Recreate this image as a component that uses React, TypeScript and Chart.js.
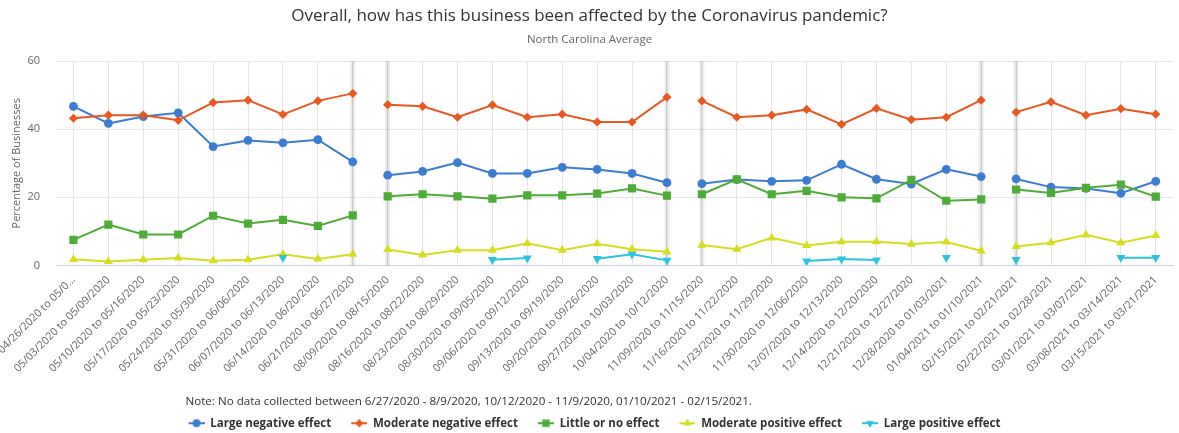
import React, { useEffect, useRef } from "react";
import { Chart, registerables } from "chart.js";

Chart.register(...registerables);

const categories = [
  "04/26/2020 to 05/02/2020",
  "05/03/2020 to 05/09/2020",
  "05/10/2020 to 05/16/2020",
  "05/17/2020 to 05/23/2020",
  "05/24/2020 to 05/30/2020",
  "05/31/2020 to 06/06/2020",
  "06/07/2020 to 06/13/2020",
  "06/14/2020 to 06/20/2020",
  "06/21/2020 to 06/27/2020",
  "08/09/2020 to 08/15/2020",
  "08/16/2020 to 08/22/2020",
  "08/23/2020 to 08/29/2020",
  "08/30/2020 to 09/05/2020",
  "09/06/2020 to 09/12/2020",
  "09/13/2020 to 09/19/2020",
  "09/20/2020 to 09/26/2020",
  "09/27/2020 to 10/03/2020",
  "10/04/2020 to 10/12/2020",
  "11/09/2020 to 11/15/2020",
  "11/16/2020 to 11/22/2020",
  "11/23/2020 to 11/29/2020",
  "11/30/2020 to 12/06/2020",
  "12/07/2020 to 12/13/2020",
  "12/14/2020 to 12/20/2020",
  "12/21/2020 to 12/27/2020",
  "12/28/2020 to 01/03/2021",
  "01/04/2021 to 01/10/2021",
  "02/15/2021 to 02/21/2021",
  "02/22/2021 to 02/28/2021",
  "03/01/2021 to 03/07/2021",
  "03/08/2021 to 03/14/2021",
  "03/15/2021 to 03/21/2021",
];

const largeNegative = [46.7, 41.7, 43.7, 44.8, 34.9, 36.7, 36.0, 36.9, 30.4, 26.5, 27.6, 30.2, 27.0, 27.0, 28.8, 28.2, 27.0, 24.3, 24.0, 25.2, 24.7, 25.0, 29.7, 25.3, 23.9, 28.2, 26.1, 25.4, 23.0, 22.6, 21.2, 24.7];
const moderateNegative = [43.2, 44.1, 44.1, 42.6, 47.8, 48.5, 44.3, 48.3, 50.5, 47.2, 46.7, 43.5, 47.1, 43.5, 44.4, 42.1, 42.1, 49.4, 48.3, 43.5, 44.1, 45.8, 41.4, 46.1, 42.8, 43.5, 48.5, 45.0, 48.0, 44.1, 46.0, 44.4];
const littleOrNoEffect = [7.5, 12.0, 9.1, 9.1, 14.6, 12.3, 13.4, 11.6, 14.7, 20.3, 20.9, 20.3, 19.6, 20.6, 20.6, 21.1, 22.6, 20.5, 20.9, 25.3, 20.9, 21.9, 20.0, 19.7, 25.1, 19.0, 19.4, 22.3, 21.3, 22.8, 23.7, 20.2];
const moderatePositive = [1.8, 1.2, 1.7, 2.2, 1.4, 1.7, 3.3, 1.9, 3.3, 4.7, 3.1, 4.5, 4.5, 6.5, 4.5, 6.4, 4.8, 4.0, 6.0, 4.8, 8.1, 5.9, 7.0, 7.0, 6.3, 6.9, 4.3, 5.6, 6.7, 9.0, 6.7, 8.8];
const largePositive = [null, null, null, null, null, null, 2.3, null, null, null, null, null, 1.7, 2.2, null, 2.0, 3.3, 1.5, null, null, null, 1.3, 1.9, 1.6, null, 2.3, null, 1.7, null, null, 2.3, 2.3];

const seriesNames = ["Large negative effect", "Moderate negative effect", "Little or no effect", "Moderate positive effect", "Large positive effect"];
const seriesColors = ["#3b7dd2", "#e8581f", "#4dad36", "#d6dd1e", "#2bc3e0"];
const yTicks = [0, 20, 40, 60];
const gapAfter = [8, 17, 26];
const bandIndices = [8, 9, 17, 18, 26, 27];

const titleText = "Overall, how has this business been affected by the Coronavirus pandemic?";
const subtitleText = "North Carolina Average";
const yTitleText = "Percentage of Businesses";
const noteText = "Note: No data collected between 6/27/2020 - 8/9/2020, 10/12/2020 - 11/9/2020, 01/10/2021 - 02/15/2021.";

const shapes = ["circle", "rectRot", "rect", "triangle", "triangle"];
const rotations = [0, 0, 0, 0, 180];
const radii = [4.4, 4.6, 5.8, 5.2, 5.2];

const FONT = "'Open Sans', sans-serif";

function drawShape(g: CanvasRenderingContext2D, shape: string, x: number, y: number, r: number, rot: number) {
  g.beginPath();
  if (shape === "circle") {
    g.arc(x, y, r, 0, Math.PI * 2);
  } else if (shape === "rectRot") {
    g.moveTo(x - r, y); g.lineTo(x, y - r); g.lineTo(x + r, y); g.lineTo(x, y + r);
  } else if (shape === "rect") {
    const s = r * Math.SQRT1_2;
    g.rect(x - s, y - s, 2 * s, 2 * s);
  } else {
    const dir = rot === 180 ? -1 : 1;
    g.moveTo(x, y - dir * r);
    g.lineTo(x + r * 0.866, y + dir * r * 0.5);
    g.lineTo(x - r * 0.866, y + dir * r * 0.5);
  }
  g.closePath();
  g.fill();
}

function makeIcon(i: number) {
  const c = document.createElement("canvas");
  c.width = 26;
  c.height = 12;
  const g = c.getContext("2d")!;
  g.strokeStyle = seriesColors[i];
  g.fillStyle = seriesColors[i];
  g.lineWidth = 2;
  g.beginPath();
  g.moveTo(10, 6);
  g.lineTo(26, 6);
  g.stroke();
  drawShape(g, shapes[i], 18, 6, radii[i] * 0.9, rotations[i]);
  return c;
}

const LEGEND_TITLE_PAD = 17.6;

const bandPlugin = {
  id: "bands",
  beforeDatasetsDraw(chart: any) {
    const { ctx, chartArea, scales } = chart;
    ctx.save();
    bandIndices.forEach((i) => {
      const x = scales.x.getPixelForValue(i);
      ctx.fillStyle = "rgba(0,0,0,0.07)";
      ctx.fillRect(x - 2.5, chartArea.top, 5, chartArea.bottom - chartArea.top);
      ctx.fillStyle = "rgba(0,0,0,0.05)";
      ctx.fillRect(x - 1, chartArea.top, 2, chartArea.bottom - chartArea.top);
    });
    ctx.restore();
  },
};

const notePlugin = {
  id: "note",
  afterDraw(chart: any) {
    const legend = chart.legend;
    if (!legend || !legend.legendHitBoxes || !legend.legendHitBoxes.length) return;
    const { ctx } = chart;
    const x = legend.legendHitBoxes[0].left + 10 - 3;
    const y = legend.top + LEGEND_TITLE_PAD + 6;
    ctx.save();
    ctx.font = `normal 11.6px ${FONT}`;
    ctx.fillStyle = "#333";
    ctx.textAlign = "left";
    ctx.textBaseline = "middle";
    ctx.fillText(noteText, x, y);
    ctx.restore();
  },
};

export default function App() {
  const ref = useRef<HTMLCanvasElement>(null);
  useEffect(() => {
    document.body.style.margin = "0";
    Chart.defaults.font.family = FONT;
    Chart.defaults.color = "#666";
    const seriesData = [largeNegative, moderateNegative, littleOrNoEffect, moderatePositive, largePositive];
    const icons = seriesData.map((_, i) => makeIcon(i));
    const datasets = seriesData.map((d, i) => ({
      label: seriesNames[i],
      data: d,
      borderColor: seriesColors[i],
      backgroundColor: seriesColors[i],
      pointBackgroundColor: seriesColors[i],
      pointBorderColor: seriesColors[i],
      pointBorderWidth: 0,
      borderWidth: 2,
      pointStyle: shapes[i],
      pointRotation: rotations[i],
      pointRadius: radii[i],
      pointHoverRadius: radii[i],
      order: 4 - i,
      tension: 0,
      spanGaps: false,
      segment: {
        borderColor: (ctx: any) => (gapAfter.includes(ctx.p0DataIndex) ? "rgba(0,0,0,0)" : undefined),
      },
    }));
    const chart = new Chart(ref.current!, {
      type: "line",
      data: { labels: categories, datasets },
      plugins: [bandPlugin, notePlugin],
      options: {
        animation: false,
        responsive: false,
        layout: { padding: { left: 0, right: 0, top: 0, bottom: -6 } },
        plugins: {
          title: {
            display: true,
            text: titleText,
            color: "#333",
            font: { size: 17, weight: "normal" },
            padding: { top: 6, bottom: 0 },
          },
          subtitle: {
            display: true,
            text: subtitleText,
            color: "#666",
            font: { size: 11.5 },
            padding: { top: 6.7, bottom: 14.1 },
          },
          tooltip: { enabled: false },
          legend: {
            position: "bottom",
            align: "center",
            title: {
              display: true,
              text: " ",
              color: "#333",
              position: "start",
              font: { size: 12, lineHeight: 1 },
              padding: { top: LEGEND_TITLE_PAD, bottom: 0 },
            },
            labels: {
              color: "#333",
              font: { size: 11.5, weight: "bold" },
              usePointStyle: true,
              pointStyleWidth: 26,
              padding: 10,
              generateLabels: () =>
                seriesNames.map((name, i) => ({
                  text: name,
                  pointStyle: icons[i],
                  fillStyle: seriesColors[i],
                  strokeStyle: seriesColors[i],
                  lineWidth: 0,
                  hidden: false,
                  datasetIndex: i,
                  fontColor: "#333",
                })),
            },
          },
        },
        scales: {
          x: {
            type: "category",
            offset: true,
            grid: { display: true, color: "#e6e6e6", offset: false, drawTicks: false },
            border: { display: true, color: "#ccd6eb", width: 1 },
            ticks: {
              autoSkip: false,
              maxRotation: 45,
              minRotation: 45,
              padding: 8,
              color: "#666",
              font: { size: 10.8 },
              callback: (_v: any, i: number) => (i === 0 ? categories[0].slice(0, 18) + "…" : categories[i]),
            },
            afterFit: (s: any) => {
              s.paddingLeft = 0;
              s.paddingRight = 0;
              s.height = 112.4;
            },
          },
          y: {
            min: 0,
            max: 60,
            grid: { color: "#e6e6e6", drawTicks: false },
            border: { display: false },
            afterBuildTicks: (s: any) => {
              s.ticks = yTicks.map((v) => ({ value: v }));
            },
            ticks: { color: "#666", font: { size: 11 }, padding: 16 },
            title: {
              display: true,
              text: yTitleText,
              color: "#666",
              font: { size: 11 },
              padding: { top: 10.4, bottom: 0 },
            },
            afterFit: (s: any) => {
              s.width = 56;
            },
          },
        },
      },
    } as any);
    return () => chart.destroy();
  }, []);
  return <canvas ref={ref} width={1179} height={433} style={{ display: "block" }} />;
}
